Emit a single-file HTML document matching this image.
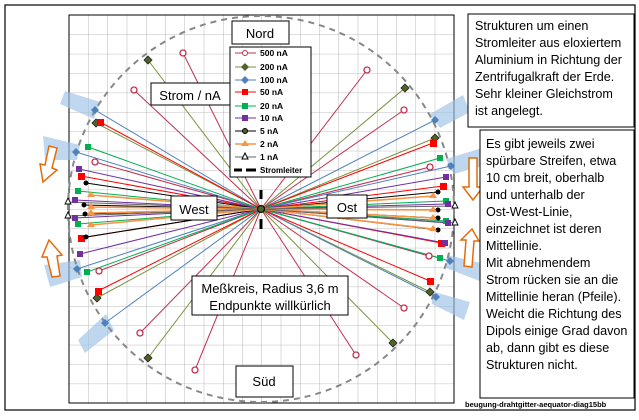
<!DOCTYPE html>
<html><head><meta charset="utf-8"><style>
html,body{margin:0;padding:0;background:#fff;width:639px;height:420px;overflow:hidden}
svg{display:block}
text{font-family:"Liberation Sans",sans-serif}
</style></head><body>
<svg width="639" height="420" viewBox="0 0 639 420" xmlns="http://www.w3.org/2000/svg">
<defs>
<pattern id="g" x="69" y="15" width="19.25" height="19.4" patternUnits="userSpaceOnUse">
<path d="M0 0V19.4M0 0H19.25" fill="none" stroke="#aaa" stroke-width="0.8"/>
</pattern>
</defs>
<rect x="5" y="5" width="630" height="405" fill="#fff" stroke="#000" stroke-width="1.2"/>
<rect x="69" y="15" width="385" height="388" fill="url(#g)" stroke="#000" stroke-width="1"/>
<g fill="#9dc3e6" opacity="0.65">
<polygon points="65,91 100,102 94,119 60,104"/>
<polygon points="43,136 80,145 77,160 45,160"/>
<polygon points="44,265 80,260 82,277 50,287"/>
<polygon points="78,340 106,314 114,330 85,353"/>
<polygon points="430,114 463,95 470,112 440,128"/>
<polygon points="446,159 482,148 486,165 454,174"/>
<polygon points="447,255 485,264 482,282 446,268"/>
<polygon points="431,291 470,302 464,320 432,304"/>
</g>
<circle cx="261" cy="209" r="193" fill="none" stroke="#888" stroke-width="2" stroke-dasharray="6,5"/>
<g stroke-width="1">
<g stroke="#c0304d"><path d="M261 209L183 53M261 209L134 90M261 209L95 162M261 209L99 271M261 209L140 333M261 209L195 370M261 209L367 70M261 209L404 110M261 209L430 167M261 209L429 256M261 209L404 308M261 209L356 355"/></g>
<g stroke="#77933c"><path d="M261 209L148 60M261 209L96 123M261 209L97 298M261 209L148 358M261 209L405 88M261 209L435 138M261 209L430 292M261 209L393 343"/></g>
<g stroke="#4f81bd"><path d="M261 209L95 110M261 209L76 152M261 209L77 269M261 209L105 323M261 209L435 120M261 209L451 166M261 209L450 261M261 209L436 297"/></g>
<g stroke="#f00"><path d="M261 209L100 122M261 209L81 176M261 209L81 238M261 209L98 291M261 209L433 143M261 209L443 186M261 209L441 243M261 209L430 281"/></g>
<g stroke="#00b050"><path d="M261 209L88 147M261 209L78 191M261 209L78 224M261 209L87 272M261 209L440 158M261 209L446 201M261 209L446 221M261 209L440 258"/></g>
<g stroke="#7030a0"><path d="M261 209L79 169M261 209L75 200M261 209L75 218M261 209L80 254M261 209L446 177M261 209L448 204M261 209L448 223M261 209L445 243"/></g>
<g stroke="#000"><path d="M261 209L86 183M261 209L84 205M261 209L85 214M261 209L86 237M261 209L438 192M261 209L438 210M261 209L438 218M261 209L438 230"/></g>
<g stroke="#f79646" stroke-width="1.6"><path d="M261 209L91 195M261 209L91 207M261 209L91 213M261 209L91 225M261 209L433 196M261 209L433 210M261 209L433 218M261 209L433 229"/></g>
<g stroke="#666"><path d="M261 209L68 202M261 209L68 216M261 209L455 206M261 209L455 223"/></g>
</g>
<g fill="#fff" stroke="#c0304d" stroke-width="1.3">
<circle cx="183" cy="53" r="3"/><circle cx="134" cy="90" r="3"/><circle cx="95" cy="162" r="3"/><circle cx="99" cy="271" r="3"/><circle cx="140" cy="333" r="3"/><circle cx="195" cy="370" r="3"/><circle cx="367" cy="70" r="3"/><circle cx="404" cy="110" r="3"/><circle cx="430" cy="167" r="3"/><circle cx="429" cy="256" r="3"/><circle cx="404" cy="308" r="3"/><circle cx="356" cy="355" r="3"/>
</g>
<g fill="#4f6228" stroke="#222" stroke-width="0.8">
<path d="M148 56l4 4-4 4-4-4z M96 119l4 4-4 4-4-4z M97 294l4 4-4 4-4-4z M148 354l4 4-4 4-4-4z M405 84l4 4-4 4-4-4z M435 134l4 4-4 4-4-4z M430 288l4 4-4 4-4-4z M393 339l4 4-4 4-4-4z"/>
</g>
<g fill="#4f81bd">
<path d="M95 106l4 4-4 4-4-4z M76 148l4 4-4 4-4-4z M77 265l4 4-4 4-4-4z M105 319l4 4-4 4-4-4z M435 116l4 4-4 4-4-4z M451 162l4 4-4 4-4-4z M450 257l4 4-4 4-4-4z M436 293l4 4-4 4-4-4z"/>
</g>
<g fill="#f00"><rect x="97" y="119" width="7" height="7"/><rect x="78" y="173" width="7" height="7"/><rect x="78" y="235" width="7" height="7"/><rect x="95" y="288" width="7" height="7"/><rect x="430" y="140" width="7" height="7"/><rect x="440" y="183" width="7" height="7"/><rect x="438" y="240" width="7" height="7"/><rect x="427" y="278" width="7" height="7"/></g>
<g fill="#00b050"><rect x="85" y="144" width="6" height="6"/><rect x="75" y="188" width="6" height="6"/><rect x="75" y="221" width="6" height="6"/><rect x="84" y="269" width="6" height="6"/><rect x="437" y="155" width="6" height="6"/><rect x="443" y="198" width="6" height="6"/><rect x="443" y="218" width="6" height="6"/><rect x="437" y="255" width="6" height="6"/></g>
<g fill="#7030a0"><rect x="76" y="166" width="6" height="6"/><rect x="72" y="197" width="6" height="6"/><rect x="72" y="215" width="6" height="6"/><rect x="77" y="251" width="6" height="6"/><rect x="443" y="174" width="6" height="6"/><rect x="445" y="201" width="6" height="6"/><rect x="445" y="220" width="6" height="6"/><rect x="442" y="240" width="6" height="6"/></g>
<g fill="#000"><circle cx="86" cy="183" r="2.5"/><circle cx="84" cy="205" r="2.5"/><circle cx="85" cy="214" r="2.5"/><circle cx="86" cy="237" r="2.5"/><circle cx="438" cy="192" r="2.5"/><circle cx="438" cy="210" r="2.5"/><circle cx="438" cy="218" r="2.5"/><circle cx="438" cy="230" r="2.5"/></g>
<g fill="#f79646"><path d="M91 191l4 6h-8z M91 203l4 6h-8z M91 209l4 6h-8z M91 221l4 6h-8z M433 192l4 6h-8z M433 206l4 6h-8z M433 214l4 6h-8z M433 225l4 6h-8z"/></g>
<g fill="#fff" stroke="#000" stroke-width="0.9"><path d="M68 198l3 6h-6z M68 212l3 6h-6z M455 202l3 6h-6z M455 219l3 6h-6z"/></g>
<circle cx="261" cy="209" r="3.5" fill="#4f6228" stroke="#000"/>
<path d="M261 190V199M261 219V229" stroke="#000" stroke-width="3"/>
<g fill="#fff" stroke="#e46c0a" stroke-width="1.5">
<polygon points="49,146 57,148 52,168 57,170 43,182 40,164 45,165"/>
<polygon points="52,277 60,276 57,256 62,255 49,240 42,257 47,257"/>
<polygon points="469,158 477,158 477,187 483,187 473,200 463,187 469,187"/>
<polygon points="464,266 472,267 474,241 479,241 472,229 461,240 466,240"/>
</g>
<g fill="#fff" stroke="#000" stroke-width="1">
<rect x="232" y="21" width="57" height="23"/>
<rect x="151" y="83" width="79" height="22"/>
<rect x="230" y="47" width="81" height="130"/>
<rect x="171" y="196" width="46" height="24"/>
<rect x="327" y="195" width="40" height="23"/>
<rect x="192" y="276" width="156" height="39"/>
<rect x="236" y="366" width="57" height="31"/>
<rect x="468" y="14" width="166" height="113"/>
<rect x="480" y="130" width="154" height="268"/>
</g>
<g font-size="13" fill="#000">
<text x="260" y="38" text-anchor="middle">Nord</text>
<text x="190" y="100" text-anchor="middle">Strom / nA</text>
<text x="194" y="214" text-anchor="middle">West</text>
<text x="347" y="212" text-anchor="middle">Ost</text>
<text x="270" y="293" text-anchor="middle">Meßkreis, Radius 3,6 m</text>
<text x="270" y="310" text-anchor="middle">Endpunkte willkürlich</text>
<text x="264" y="386" text-anchor="middle">Süd</text>
</g>
<g font-size="8.5" font-weight="bold" fill="#000">
<g stroke-width="1"><line x1="235" y1="53" x2="256" y2="53" stroke="#c0304d"/><circle cx="245" cy="53" r="2.5" fill="#fff" stroke="#c0304d"/></g><text x="260" y="56">500 nA</text>
<g><line x1="235" y1="67" x2="256" y2="67" stroke="#77933c"/><path d="M245 63l4 4-4 4-4-4z" fill="#4f6228"/></g><text x="260" y="70">200 nA</text>
<g><line x1="235" y1="80" x2="256" y2="80" stroke="#4f81bd"/><path d="M245 76l4 4-4 4-4-4z" fill="#4f81bd"/></g><text x="260" y="83">100 nA</text>
<g><line x1="235" y1="92" x2="256" y2="92" stroke="#f00"/><rect x="242" y="89" width="6" height="6" fill="#f00"/></g><text x="260" y="95">50 nA</text>
<g><line x1="235" y1="106" x2="256" y2="106" stroke="#00b050"/><rect x="242" y="103" width="6" height="6" fill="#00b050"/></g><text x="260" y="109">20 nA</text>
<g><line x1="235" y1="118" x2="256" y2="118" stroke="#7030a0"/><rect x="242" y="115" width="6" height="6" fill="#7030a0"/></g><text x="260" y="121">10 nA</text>
<g><line x1="235" y1="131" x2="256" y2="131" stroke="#000"/><circle cx="245" cy="131" r="2.5" fill="#4f6228" stroke="#000"/></g><text x="260" y="134">5 nA</text>
<g><line x1="235" y1="144" x2="256" y2="144" stroke="#f79646" stroke-width="1.5"/><path d="M245 140l4 6h-8z" fill="#f79646"/></g><text x="260" y="147">2 nA</text>
<g><line x1="235" y1="157" x2="256" y2="157" stroke="#666"/><path d="M245 153l3 6h-6z" fill="#fff" stroke="#000"/></g><text x="260" y="160">1 nA</text>
<path d="M234 170h8M246 170h10" stroke="#000" stroke-width="3"/><text x="260" y="173" font-size="8">Stromleiter</text>
</g>
<g font-size="12.6" fill="#000">
<text x="475" y="30">Strukturen um einen</text>
<text x="475" y="47">Stromleiter aus eloxiertem</text>
<text x="475" y="64">Aluminium in Richtung der</text>
<text x="475" y="81">Zentrifugalkraft der Erde.</text>
<text x="475" y="98">Sehr kleiner Gleichstrom</text>
<text x="475" y="115">ist angelegt.</text>
<text x="486" y="148">Es gibt jeweils zwei</text>
<text x="486" y="165">spürbare Streifen, etwa</text>
<text x="486" y="182">10 cm breit, oberhalb</text>
<text x="486" y="199">und unterhalb der</text>
<text x="486" y="216">Ost-West-Linie,</text>
<text x="486" y="233">einzeichnet ist deren</text>
<text x="486" y="250">Mittellinie.</text>
<text x="486" y="267">Mit abnehmendem</text>
<text x="486" y="284">Strom rücken sie an die</text>
<text x="486" y="301">Mittellinie heran (Pfeile).</text>
<text x="486" y="318">Weicht die Richtung des</text>
<text x="486" y="335">Dipols einige Grad davon</text>
<text x="486" y="352">ab, dann gibt es diese</text>
<text x="486" y="369">Strukturen nicht.</text>
</g>
<text x="465" y="407" font-size="7.5" font-weight="bold" fill="#000">beugung-drahtgitter-aequator-diag15bb</text>
</svg>
</body></html>
